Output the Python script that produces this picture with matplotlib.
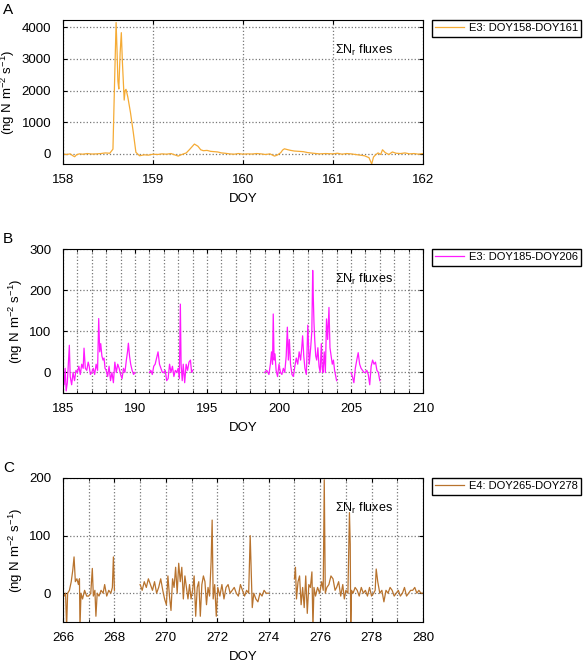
import numpy as np
import matplotlib
matplotlib.use('Agg')
from matplotlib import pyplot as plt
from matplotlib.ticker import MultipleLocator

plt.rcParams['font.family'] = ['Liberation Sans', 'DejaVu Sans']
plt.rcParams['mathtext.fontset'] = 'custom'
plt.rcParams['mathtext.rm'] = 'Liberation Sans'
plt.rcParams['mathtext.it'] = 'Liberation Sans'

# --- panel A: E3 DOY158-DOY161 ---
doy_a = [158.00, 158.04, 158.08, 158.11, 158.13, 158.15, 158.18, 158.22, 158.27, 158.32,
         158.37, 158.42, 158.47, 158.52, 158.555, 158.575, 158.59, 158.60, 158.61, 158.62,
         158.635, 158.648, 158.66, 158.68, 158.69, 158.70, 158.72, 158.75, 158.78, 158.81,
         158.85, 158.90, 158.95, 159.00, 159.05, 159.10, 159.15, 159.20, 159.25, 159.28,
         159.32, 159.37, 159.41, 159.46, 159.50, 159.53, 159.56, 159.60, 159.64, 159.68,
         159.72, 159.76, 159.80, 159.85, 159.90, 159.95, 160.00, 160.05, 160.10, 160.15,
         160.20, 160.25, 160.30, 160.35, 160.38, 160.42, 160.44, 160.46, 160.50, 160.53,
         160.57, 160.62, 160.67, 160.72, 160.78, 160.85, 160.92, 161.00, 161.05, 161.10,
         161.15, 161.20, 161.25, 161.30, 161.35, 161.40, 161.43, 161.45, 161.47, 161.50,
         161.53, 161.55, 161.58, 161.62, 161.66, 161.70, 161.75, 161.80, 161.85, 161.90,
         161.95, 162.00]
flux_a = [-10, -20, 0, -60, -90, -30, 0, -10, 10, -5,
          0, 10, 30, 20, 150, 2500, 4150, 3300, 2300, 2050,
          3200, 3830, 2900, 1700, 2000, 2040, 1800, 1300, 700, 50,
          -60, -30, -40, -10, -20, 0, -10, 10, -40, -70,
          -20, 30, 150, 310, 240, 130, 100, 110, 80, 70,
          60, 30, 20, 0, -10, 10, -10, 0, -5, 10,
          0, -20, 0, -70, -40, 40, 120, 160, 130, 110,
          90, 80, 70, 40, 20, 0, 10, 0, 20, -10,
          10, 0, -20, -40, -60, -120, -320, -100, -40, 30,
          -20, 130, 40, -20, 60, 20, 10, 30, 0, 10,
          -10, 10]

# --- panel B: E3 DOY185-DOY206 (gaps as nan) ---
doy_b = [185.00, 185.08, 185.15, 185.22, 185.30, 185.37, 185.44, 185.50, 185.60, 185.70,
         185.80, 185.90, 186.00, 186.10, 186.20, 186.30, 186.40, 186.46, 186.55, 186.65,
         186.75, 186.82, 186.90, 187.00, 187.10, 187.20, 187.30, 187.40, 187.48, 187.55,
         187.62, 187.70, 187.78, 187.85, 187.92, 188.00, 188.10, 188.20, 188.30, 188.40,
         188.50, 188.60, 188.70, 188.80, 188.90, 189.00, 189.10, 189.20, 189.30, 189.40,
         189.48, 189.54, 189.62, 189.70, 189.80, 189.90, 190.00, 190.50,
         191.00, 191.10, 191.20, 191.30, 191.40, 191.50, 191.60, 191.70, 191.80, 191.90,
         192.00, 192.10, 192.20, 192.30, 192.40, 192.50, 192.60, 192.70, 192.80, 192.90,
         193.00, 193.08, 193.15, 193.20, 193.28, 193.35, 193.45, 193.55, 193.65, 193.75,
         193.85, 193.93, 194.00, 196.50,
         199.00, 199.15, 199.30, 199.40, 199.48, 199.55, 199.60, 199.66, 199.72, 199.80,
         199.90, 200.00, 200.10, 200.20, 200.30, 200.40, 200.50, 200.58, 200.65, 200.72,
         200.80, 200.90, 201.00, 201.10, 201.20, 201.30, 201.40, 201.50, 201.58, 201.64,
         201.72, 201.80, 201.90, 202.00, 202.10, 202.20, 202.28, 202.34, 202.38, 202.43,
         202.48, 202.55, 202.62, 202.70, 202.78, 202.86, 202.94, 203.00, 203.06, 203.14,
         203.22, 203.30, 203.38, 203.47, 203.54, 203.62, 203.70, 203.78, 203.86, 203.94,
         204.00, 204.50,
         205.00, 205.10, 205.20, 205.30, 205.40, 205.50, 205.60, 205.70, 205.80, 205.90,
         206.00, 206.10, 206.20, 206.30, 206.40, 206.50, 206.60, 206.70, 206.80, 206.90,
         207.00]
flux_b = [-20, -30, 10, -45, -25, 20, 66, -10, -30, 0,
          -20, 5, 0, 15, -5, 20, 10, 59, 10, 5,
          25, 15, -5, 0, 10, -5, 20, 5, 131, 50,
          70, 40, 30, 35, 10, 5, -10, 15, -20, 0,
          -25, 25, 0, 20, 10, -5, -15, 10, 0, 30,
          50, 71, 40, 20, 5, -5, 0, np.nan,
          0, 5, -5, 15, 20, 35, 50, 20, 10, 0,
          0, 5, -20, -15, 20, 0, 15, -10, 5, 0,
          10, -15, 166, 20, -20, 20, -25, 20, 5, 25,
          30, 0, 5, np.nan,
          0, 5, -5, 20, 50, 20, 142, 30, 45, 5,
          -10, 20, 0, -5, 10, 0, 40, 110, 30, 80,
          20, -5, -10, 15, 35, 20, 50, 30, 60, 89,
          40, 10, -5, 115, 20, 60, 100, 248, 185, 120,
          80, 40, 30, 60, 15, 0, 70, 10, 0, 50,
          0, 130, 80, 158, 60, 40, 20, 30, 5, -10,
          -20, np.nan,
          0, -10, -25, 10, 30, 48, 20, 10, 5, 0,
          0, 5, -5, -30, 15, 30, 20, 25, 5, 0,
          -20]

# --- panel C: E4 DOY265-DOY278 (gaps as nan) ---
doy_c = [266.00, 266.05, 266.10, 266.14, 266.18, 266.25, 266.32, 266.38, 266.43, 266.48,
         266.54, 266.60, 266.64, 266.66, 266.70, 266.76, 266.84, 266.92, 267.00, 267.08,
         267.14, 267.18, 267.24, 267.28, 267.33, 267.40, 267.48, 267.56, 267.62, 267.70,
         267.78, 267.86, 267.92, 267.96, 268.00, 268.50,
         269.00, 269.08, 269.16, 269.24, 269.32, 269.40, 269.48, 269.56, 269.64, 269.72,
         269.80, 269.88, 269.95, 270.02, 270.08, 270.14, 270.20, 270.26, 270.32, 270.38,
         270.44, 270.50, 270.56, 270.62, 270.68, 270.74, 270.80, 270.86, 270.92, 270.98,
         271.04, 271.10, 271.16, 271.22, 271.28, 271.34, 271.40, 271.46, 271.52, 271.58,
         271.64, 271.70, 271.76, 271.80, 271.84, 271.90, 271.96, 272.02, 272.10, 272.18,
         272.26, 272.34, 272.42, 272.50, 272.58, 272.66, 272.74, 272.82, 272.90, 272.98,
         273.06, 273.14, 273.22, 273.28, 273.32, 273.36, 273.42, 273.50, 273.58, 273.66,
         273.74, 273.82, 273.90, 274.00, 274.50,
         275.00, 275.04, 275.08, 275.14, 275.20, 275.26, 275.32, 275.38, 275.44, 275.50,
         275.56, 275.62, 275.68, 275.72, 275.76, 275.82, 275.90, 275.98, 276.06, 276.12,
         276.16, 276.20, 276.26, 276.34, 276.42, 276.50, 276.58, 276.64, 276.72, 276.80,
         276.88, 276.94, 277.00, 277.08, 277.14, 277.17, 277.19, 277.22, 277.28, 277.36,
         277.44, 277.52, 277.60, 277.68, 277.76, 277.84, 277.92, 278.00, 278.08, 278.14,
         278.18, 278.24, 278.32, 278.40, 278.48, 278.56, 278.64, 278.72, 278.80, 278.88,
         278.96, 279.04, 279.12, 279.20, 279.28, 279.36, 279.44, 279.52, 279.60, 279.68,
         279.76, 279.84, 279.92, 280.00]
flux_c = [0, -5, 0, -60, 0, 5, 20, 40, 63, 20,
          25, 15, 25, -60, 0, -10, 5, -5, -5, 0,
          43, -5, 5, -40, 0, -5, 5, 0, 15, -5,
          5, 0, 10, 63, 5, np.nan,
          15, 5, 20, 10, 25, 15, 5, 20, 0, 10,
          25, 5, -10, -20, 30, -5, -30, 25, 10, 45,
          0, 52, 20, 45, -10, 30, 10, -10, 15, -10,
          5, 30, -40, 10, 20, -40, 15, 30, 20, -20,
          10, -5, 55, 127, -10, 15, -40, 10, -5, 15,
          -10, 10, 15, 0, 5, 10, 0, -5, 15, 5,
          -5, 5, 0, 100, 40, -25, 0, -10, -15, 0,
          -5, 5, 0, 0, np.nan,
          25, 45, -10, 20, 30, -20, 10, -25, 30, -35,
          15, 10, 37, -60, 10, -5, 10, 0, 20, 5,
          197, 0, 10, 15, 30, 25, 5, 10, 20, -5,
          15, -10, 5, 0, 140, 85, -60, 5, 0, 10,
          5, -5, 10, 0, 5, -5, 10, -5, 0, 5,
          42, 20, 0, 5, -15, 5, 0, 10, 5, -5,
          0, 5, -5, 0, 10, -5, 0, 5, 5, 10,
          0, 5, 0, 0]

panels = [
    dict(x=doy_a, y=flux_a, color='#f5ab35', label='E3: DOY158-DOY161',
         xlim=(158, 162), ylim=(-320, 4230), xmaj=1, xmin=1, ymaj=1000, tag='A'),
    dict(x=doy_b, y=flux_b, color='#ff1aff', label='E3: DOY185-DOY206',
         xlim=(185, 210), ylim=(-50, 300), xmaj=5, xmin=1, ymaj=100, tag='B'),
    dict(x=doy_c, y=flux_c, color='#b8732e', label='E4: DOY265-DOY278',
         xlim=(266, 280), ylim=(-50, 200), xmaj=2, xmin=1, ymaj=100, tag='C'),
]

fig = plt.figure(figsize=(5.84, 6.62), dpi=100)
W, H = 584.0, 662.0
tops = [20, 249, 478]
for p, top in zip(panels, tops):
    ax = fig.add_axes([63 / W, 1 - (top + 144) / H, 360 / W, 144 / H])
    ax.plot(p['x'], p['y'], color=p['color'], lw=0.9, label=p['label'])
    ax.set_xlim(*p['xlim'])
    ax.set_ylim(*p['ylim'])
    ax.xaxis.set_major_locator(MultipleLocator(p['xmaj']))
    ax.xaxis.set_minor_locator(MultipleLocator(p['xmin']))
    ax.yaxis.set_major_locator(MultipleLocator(p['ymaj']))
    ax.tick_params(which='both', direction='in', top=True, right=True, labelsize=9.5)
    ax.tick_params(which='major', length=3, width=0.8)
    ax.tick_params(which='minor', length=2, width=0.6)
    ax.tick_params(axis='x', which='major', pad=7)
    ax.tick_params(axis='y', which='major', pad=8.5)
    ax.grid(which='both', axis='x', ls=':', color='#777777', lw=0.9)
    ax.grid(which='major', axis='y', ls=':', color='#777777', lw=0.9)
    for s in ax.spines.values():
        s.set_linewidth(0.8)
    ax.set_xlabel('DOY', fontsize=9.5, labelpad=5)
    ax.set_ylabel('(ng N m$^{-2}$ s$^{-1}$)', fontsize=9.5, labelpad=3)
    ax.text(0.755, 0.79, r'$\Sigma$N$_r$ fluxes', transform=ax.transAxes,
            fontsize=9, ha='left', va='center')
    ax.legend(loc='upper left', bbox_to_anchor=(432 / W, 1 - top / H),
              bbox_transform=fig.transFigure, fontsize=8, frameon=True,
              fancybox=False, edgecolor='black', framealpha=1,
              handlelength=2.6, borderpad=0.3, borderaxespad=0,
              handletextpad=0.4)
    fig.text(3 / W, 1 - (top - 10) / H, p['tag'], fontsize=11, ha='left', va='center')

fig.savefig('out.png', dpi=100)
